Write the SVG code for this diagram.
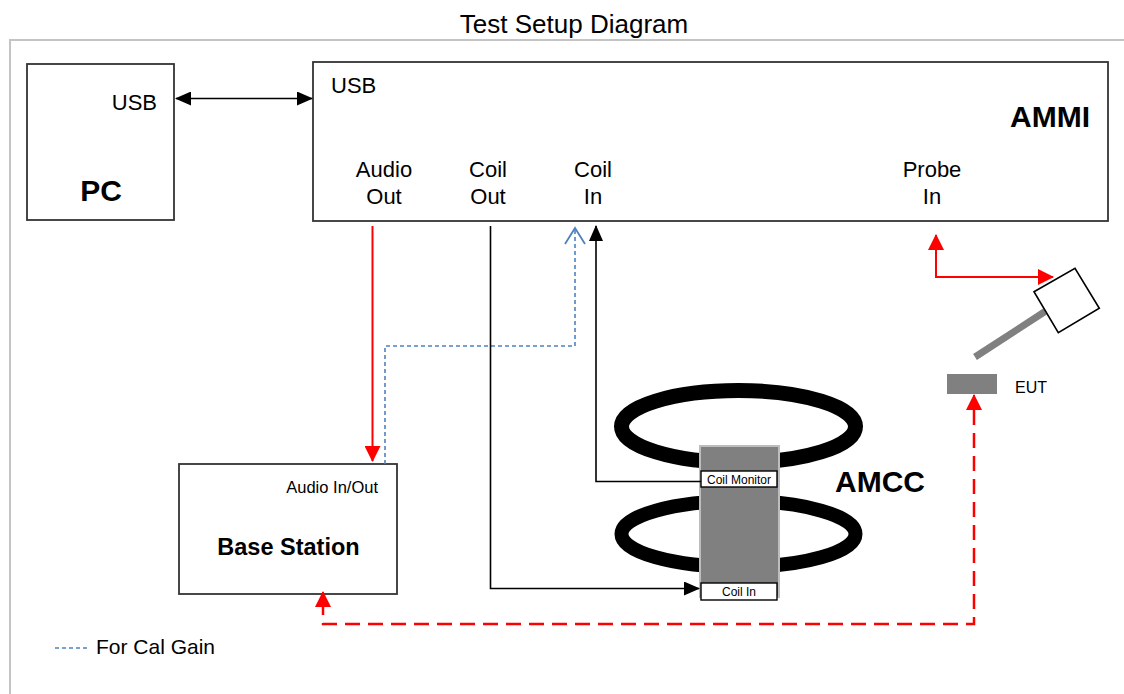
<svg xmlns="http://www.w3.org/2000/svg" width="1124" height="694" viewBox="0 0 1124 694">
<style>
text{font-family:"Liberation Sans",Arial,sans-serif;fill:#000}
.box{fill:#fff;stroke:#333;stroke-width:1.8}
.lbl{font-size:22px}
.big{font-size:30px;font-weight:bold}
.blk{fill:none;stroke:#000;stroke-width:1.6}
.red{fill:none;stroke:#f00;stroke-width:2}
.redd{fill:none;stroke:#f00;stroke-width:2.5;stroke-dasharray:15 8}
.blu{fill:none;stroke:#4f81bd;stroke-width:1.6;stroke-dasharray:4 3}
</style>
<defs>
<marker id="ab" markerUnits="userSpaceOnUse" markerWidth="16" markerHeight="14" viewBox="0 0 16 14" refX="15" refY="7" orient="auto-start-reverse"><path d="M0,0L16,7L0,14Z" fill="#000"/></marker>
<marker id="ar" markerUnits="userSpaceOnUse" markerWidth="16" markerHeight="16" viewBox="0 0 16 16" refX="15" refY="8" orient="auto"><path d="M0,0L16,8L0,16Z" fill="#f00"/></marker>
</defs>
<rect width="1124" height="694" fill="#fff"/>
<rect x="10" y="40" width="1130" height="700" fill="none" stroke="#c4c4c4" stroke-width="2"/>
<text x="574" y="33" font-size="26" text-anchor="middle">Test Setup Diagram</text>

<g id="pc">
<rect class="box" x="27" y="64" width="147" height="156"/>
<text class="lbl" x="157" y="110" text-anchor="end" font-size="21">USB</text>
<text class="big" x="101" y="201" text-anchor="middle">PC</text>
</g>

<g id="ammi">
<rect class="box" x="313" y="62" width="795" height="159"/>
<text class="lbl" x="331" y="93">USB</text>
<text class="big" x="1090" y="127" text-anchor="end">AMMI</text>
<text class="lbl" x="384" y="177" text-anchor="middle">Audio</text>
<text class="lbl" x="384" y="204" text-anchor="middle">Out</text>
<text class="lbl" x="488" y="177" text-anchor="middle">Coil</text>
<text class="lbl" x="488" y="204" text-anchor="middle">Out</text>
<text class="lbl" x="593" y="177" text-anchor="middle">Coil</text>
<text class="lbl" x="593" y="204" text-anchor="middle">In</text>
<text class="lbl" x="932" y="177" text-anchor="middle">Probe</text>
<text class="lbl" x="932" y="204" text-anchor="middle">In</text>
</g>

<g id="base-station">
<rect class="box" x="179" y="464" width="218" height="130"/>
<text x="378" y="493" font-size="16.5" text-anchor="end">Audio In/Out</text>
<text x="288.5" y="555" font-size="23.5" font-weight="bold" text-anchor="middle">Base Station</text>
</g>

<g id="amcc">
<ellipse cx="738.5" cy="426.5" rx="117" ry="36" fill="none" stroke="#000" stroke-width="15"/>
<ellipse cx="738.5" cy="534" rx="117" ry="33" fill="none" stroke="#000" stroke-width="14"/>
<rect x="700" y="446" width="79" height="151" fill="#808080" stroke="#bdbdbd" stroke-width="2"/>
<rect x="701" y="471" width="76" height="16" fill="#fff" stroke="#000" stroke-width="1.4"/>
<text x="739" y="483.5" font-size="12" text-anchor="middle">Coil Monitor</text>
<rect x="701" y="583" width="76" height="17" fill="#fff" stroke="#000" stroke-width="1.4"/>
<text x="739" y="596" font-size="12" text-anchor="middle">Coil In</text>
<text class="big" x="835" y="492">AMCC</text>
</g>

<g id="probe">
<line x1="975" y1="357" x2="1045" y2="311.5" stroke="#808080" stroke-width="7"/>
<polygon points="1034,291.7 1075,268.3 1099.3,308.3 1058.3,332.7" fill="#fff" stroke="#000" stroke-width="1.6"/>
</g>

<g id="eut">
<rect x="947" y="374" width="50" height="20" fill="#808080"/>
<text x="1015" y="393" font-size="16">EUT</text>
</g>

<g id="connectors">
<line class="blk" x1="176" y1="98.5" x2="312" y2="98.5" marker-start="url(#ab)" marker-end="url(#ab)"/>
<line class="red" x1="372.5" y1="226" x2="372.5" y2="461" marker-end="url(#ar)"/>
<polyline class="blu" points="385,464 385,346 575,346 575,229"/>
<polyline points="565,244 575,228 585,244" fill="none" stroke="#4f81bd" stroke-width="1.8"/>
<polyline class="blk" points="490.5,226 490.5,588.5 699,588.5" marker-end="url(#ab)"/>
<polyline class="blk" points="701,481.5 596,481.5 596,226" marker-end="url(#ab)"/>
<polyline class="red" points="936,235 936,277 1053,277" marker-end="url(#ar)"/>
<line class="red" x1="936" y1="250" x2="936" y2="235" marker-end="url(#ar)"/>
<polyline class="redd" points="974,410 974,624 323,624 323,605"/>
<line class="red" stroke-width="2.5" x1="974" y1="412" x2="974" y2="395" marker-end="url(#ar)"/>
<line class="red" stroke-width="2.5" x1="323" y1="608" x2="323" y2="592" marker-end="url(#ar)"/>
</g>

<g id="legend">
<line class="blu" x1="55" y1="648" x2="88" y2="648"/>
<text x="96" y="654" font-size="21">For Cal Gain</text>
</g>
</svg>
